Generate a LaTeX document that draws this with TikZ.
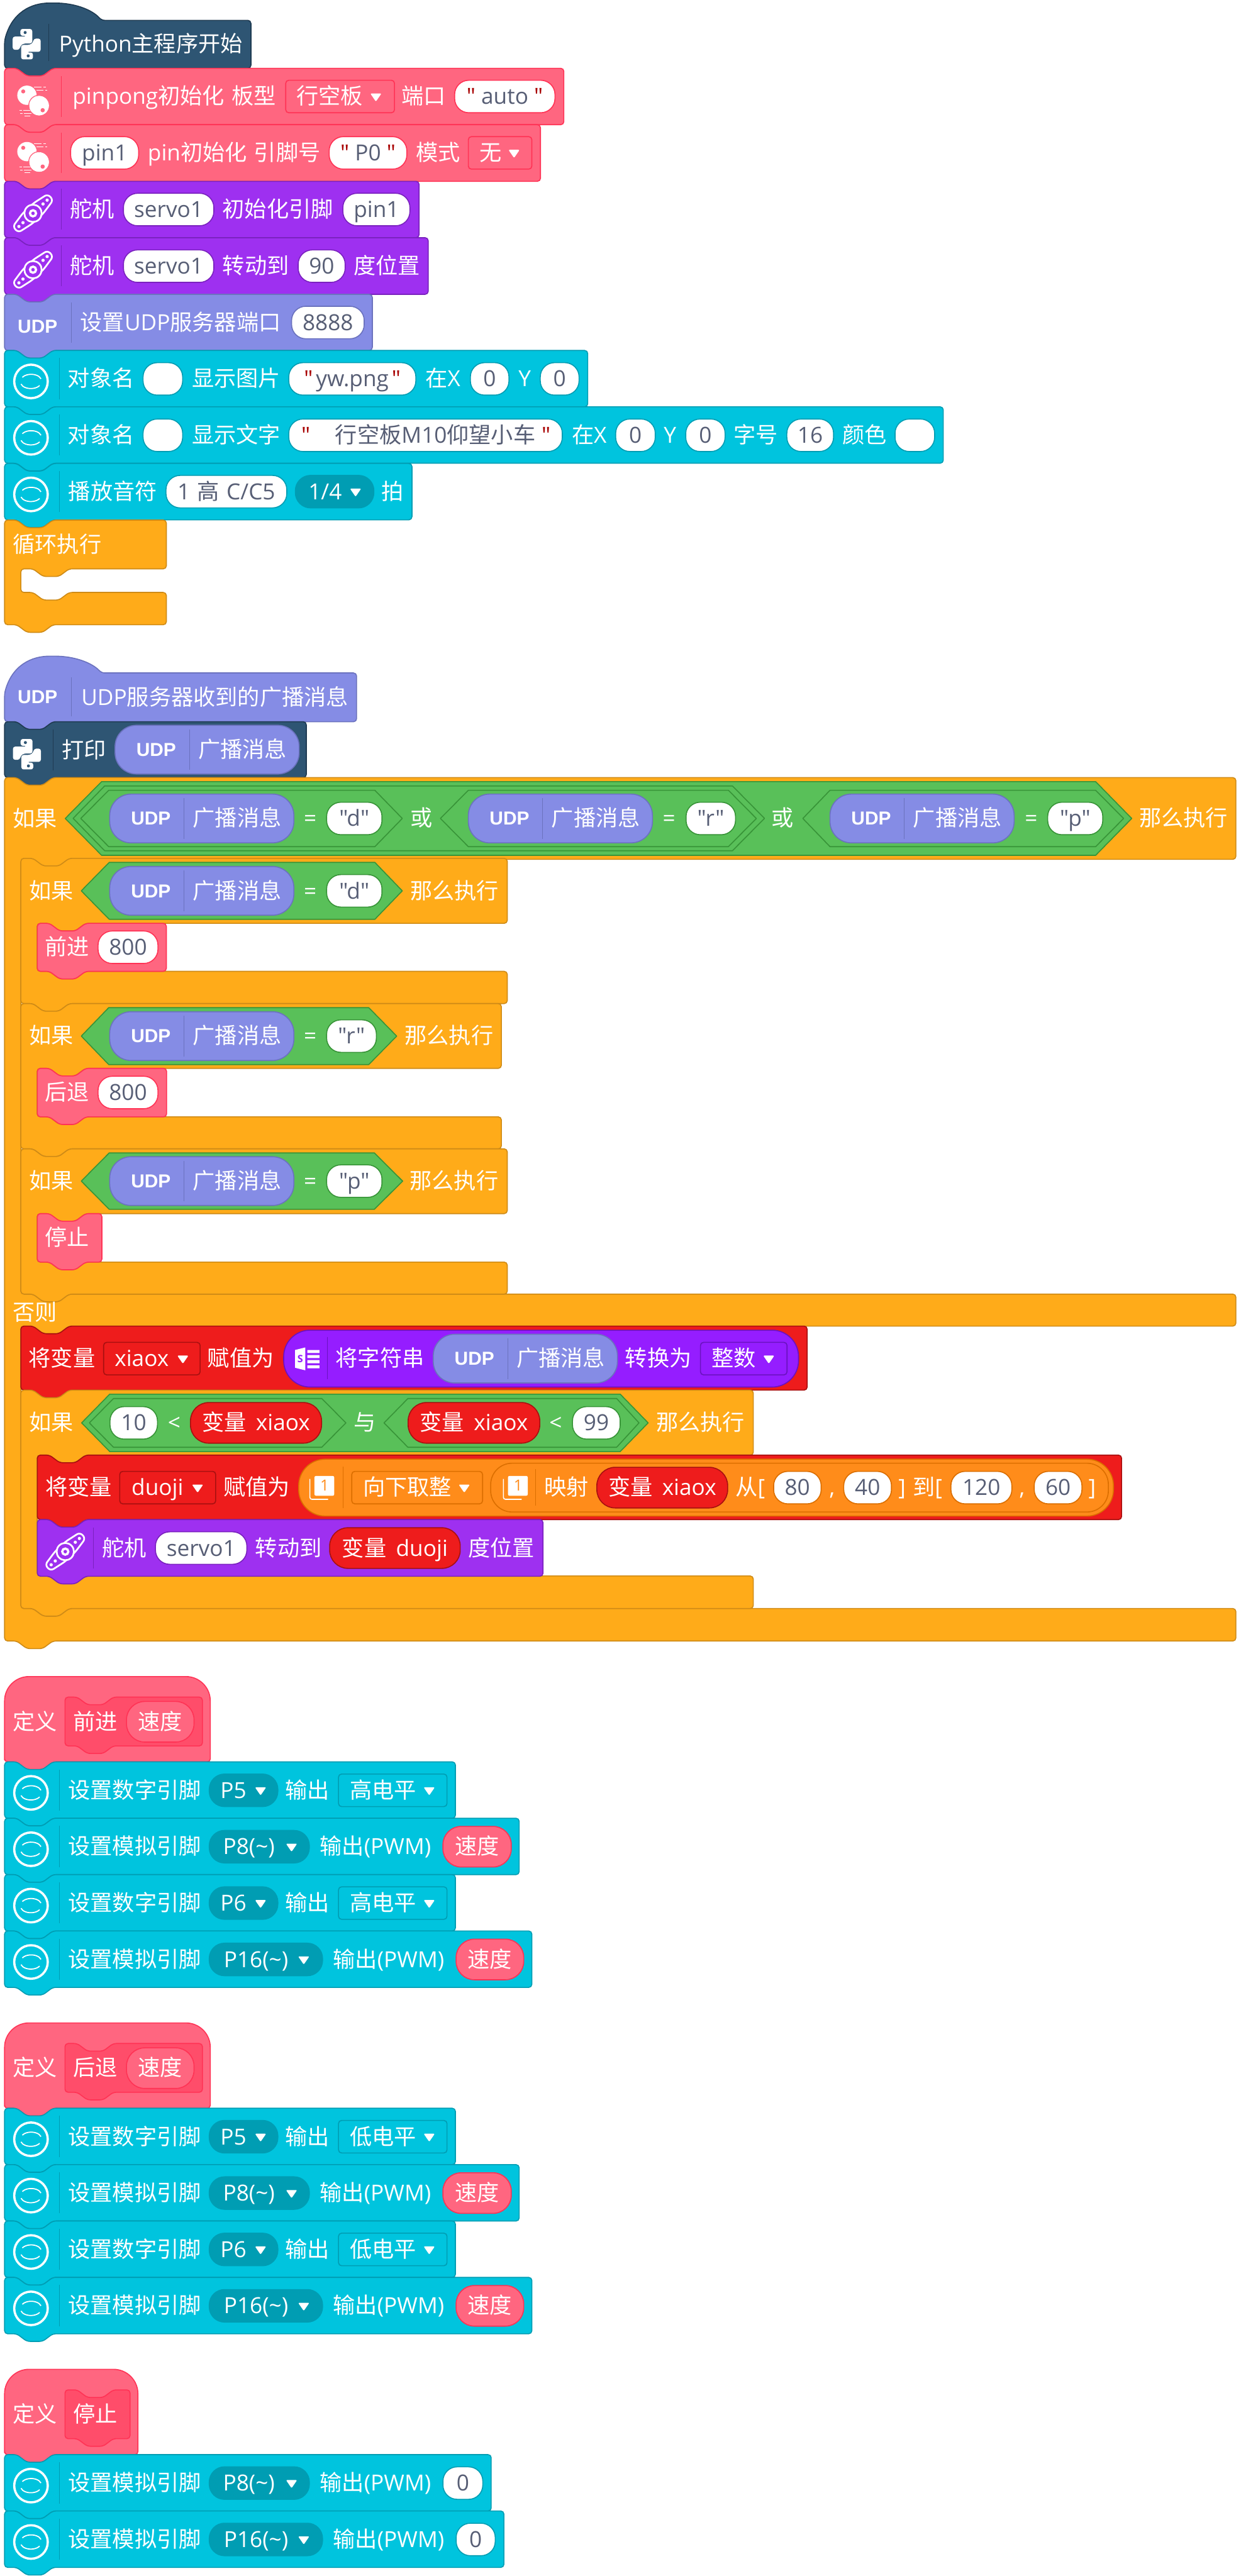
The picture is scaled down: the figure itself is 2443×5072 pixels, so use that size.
\documentclass[tikz,border=0pt]{standalone}
\usepackage{fontspec}
\setmainfont{Noto Sans CJK SC}
\newfontfamily\latf{Open Sans}
\newfontfamily\arialf{Liberation Sans}
\newcommand\Lt[1]{{\latf #1}}
\definecolor{cPy}{HTML}{2E5573}\definecolor{cPyD}{HTML}{1F3B52}
\definecolor{cPink}{HTML}{FF6680}\definecolor{cPinkD}{HTML}{FF3355}
\definecolor{cPinkI}{HTML}{FF4D6A}\definecolor{cPinkID}{HTML}{FF3355}
\definecolor{cServo}{HTML}{9E30F0}\definecolor{cServoD}{HTML}{7A22BE}
\definecolor{cUdp}{HTML}{858CE5}\definecolor{cUdpD}{HTML}{6B72BE}
\definecolor{cTeal}{HTML}{00C4DE}\definecolor{cTealD}{HTML}{009DB3}
\definecolor{cOr}{HTML}{FFAB19}\definecolor{cOrD}{HTML}{CF8B17}
\definecolor{cGr}{HTML}{59C059}\definecolor{cGrD}{HTML}{389438}
\definecolor{cRed}{HTML}{EE1C1C}\definecolor{cRedD}{HTML}{A81010}
\definecolor{cVio}{HTML}{951DFF}\definecolor{cVioD}{HTML}{6A12C0}
\definecolor{cMap}{HTML}{FF8C1A}\definecolor{cMapD}{HTML}{DB6E00}
\definecolor{slate}{HTML}{575E75}
\definecolor{qred}{HTML}{A80000}
\newcounter{nn}
\tikzset{
  txt/.style={inner sep=0pt,anchor=base,font=\fontsize{21.8}{26}\selectfont},
  blk/.style={fill=#1,draw=#1D,line width=1pt,rounded corners=3pt,line join=round},
  hexa/.style={fill=cGr,draw=cGrD,line width=1pt,line join=round},
  pil/.style={line width=1pt},
}
% text: [colour]{x}{centre y}{text}
\newcommand\T[4][white]{\stepcounter{nn}\node[txt,text=#1] (t\arabic{nn}) at ({#2},{#3+15.5}) {#4};}
\newcommand\Q{\textcolor{qred}{"}}
\newcommand\Sp{\hspace{7pt}}
\newcommand\Stackb[5]{\draw[blk=#5] (#1,#2) -- (#1+24,#2) -- (#1+44,#2+15) -- (#1+75,#2+15) -- (#1+95,#2) -- (#3,#2) -- (#3,#4) -- (#1+95,#4) -- (#1+75,#4+15) -- (#1+44,#4+15) -- (#1+24,#4) -- (#1,#4) -- cycle;}
% hat: x1, top of dome, body top, bottom, colour
\newcommand\Hat[5]{\draw[blk=#5] (9,#3+40) .. controls (24,#2+18) and (62,#2) .. (103,#2) .. controls (145,#2) and (180,#2+12) .. (200,#3) -- (#1,#3) -- (#1,#4) -- (104,#4) -- (84,#4+15) -- (53,#4+15) -- (33,#4) -- (9,#4) -- cycle;}
% C block: x0 top x1 yh ya yb
\newcommand\Cblk[6]{\draw[blk=cOr] (#1,#2) -- (#1+24,#2) -- (#1+44,#2+15) -- (#1+75,#2+15) -- (#1+95,#2) -- (#3,#2) -- (#3,#4) -- (#1+127,#4) -- (#1+107,#4+15) -- (#1+76,#4+15) -- (#1+56,#4) -- (#1+32,#4) -- (#1+32,#5) -- (#1+56,#5) -- (#1+76,#5+15) -- (#1+107,#5+15) -- (#1+127,#5) -- (#3,#5) -- (#3,#6) -- (#1+95,#6) -- (#1+75,#6+15) -- (#1+44,#6+15) -- (#1+24,#6) -- (#1,#6) -- cycle;}
\newcommand\Hex[6]{\draw[hexa] (#1,{(#5+#6)/2}) -- (#2,#5) -- (#3,#5) -- (#4,{(#5+#6)/2}) -- (#3,#6) -- (#2,#6) -- cycle;}
% x0 x1 cy hh radius fill stroke
\newcommand\Pill[7]{\draw[pil,fill=#6,draw=#7,rounded corners=#5] (#1,#3-#4) rectangle (#2,#3+#4);}
% white input: x0 x1 cy stroke text
\newcommand\WP[5]{\Pill{#1}{#2}{#3}{32}{14pt}{white}{#4}\T[slate]{(#1+#2)/2}{#3}{#5}}
\newcommand\Tri[2]{\fill[white,rounded corners=1.2pt] (#1-11,#2-6) -- (#1+11,#2-6) -- (#1,#2+10) -- cycle;}
% dropdown: x0 x1 cy fill stroke radius xt xa text
\newcommand\DD[9]{\Pill{#1}{#2}{#3}{32}{#6}{#4}{#5}\T{#7}{#3}{#9}\Tri{#8}{#3}}
\newcommand\Dv[4]{\draw[line width=0.7pt,draw=#4] (#1,#2) -- (#1,#3);}
\newcommand\UDPmark[2]{\stepcounter{nn}\node[inner sep=0pt,anchor=base,text=white,font=\arialf\bfseries\fontsize{18.5}{20}\selectfont] (t\arabic{nn}) at ({#1},{#2+13}) {UDP};}
% UDP message pill: x0 cy
\newcommand\Msg[2]{\Pill{#1}{#1+362.5}{#2}{48}{21pt}{cUdp}{cUdpD}\Dv{#1+146.5}{#2-40}{#2+40}{cUdpD}\UDPmark{#1+81}{#2}\T{#1+251}{#2}{广播消息}}
\newcommand\RedP[4]{\Pill{#1}{#2}{#3}{40}{18pt}{cRed}{cRedD}\T{(#1+#2)/2}{#3}{变量\hspace{9.5pt}\Lt{#4}}}
\newcommand\Py[3]{\begin{scope}[shift={(#1,#2)}]
  \foreach \r in {0,180}{\begin{scope}[rotate=\r]
  \fill[white,rounded corners=2.2pt] (-12.5,-30) -- (11,-30) -- (11,-1.5) -- (-6,-1.5) -- (-12.5,3) -- (-14,11) -- (-27.5,11) -- (-27.5,-15) -- (0,-15) -- (0,-16.5) -- (-12.5,-16.5) -- cycle;
  \fill[#3] (-3,-23) circle[radius=3];
  \end{scope}}
\end{scope}}
\newcommand\Ping[1]{\begin{scope}[shift={(0,#1)}]
  \fill[white] (53,53) circle[radius=19];
  \fill[cPink] (45.7,45.5) circle[radius=4];
  \draw[white,fill=white] (77,73.5) circle[radius=19];
  \draw[cPink,line width=0.8pt] (77,73.5) circle[radius=20.5];
  \fill[cPink] (84,82.5) circle[radius=4.2];
  \draw[white,line width=0.6pt] (67,37) -- (82,37) (85,37) -- (90,37) (72,43) -- (86,43) (89,43) -- (93,43);
  \draw[white,line width=0.6pt] (38,83) -- (43,83) (46,83) -- (60,83) (40,89) -- (44,89) (47,89) -- (62,89) (48,94) -- (60,94);
\end{scope}}
\newcommand\Servo[3]{\begin{scope}[shift={(#1,#2)},rotate=43]
  \draw[white,line width=1.7pt,rounded corners=3.5pt] (-47,-8) -- (-14,-14) -- (14,-14) -- (47,-8) -- (47,8) -- (14,14) -- (-14,14) -- (-47,8) -- cycle;
  \draw[white,line width=1.7pt,fill=#3] (0,0) circle[radius=17];
  \draw[white,line width=2.2pt] (0,0) circle[radius=6];
  \foreach \d in {-38,-27,27,38}{\fill[white] (\d,0) circle[radius=3.2];}
\end{scope}}
\newcommand\Ticon[2]{\begin{scope}[shift={(#1,#2)}]
  \draw[white,line width=2.2pt] (0,0) circle[radius=33];
  \draw[white,line width=1.1pt] (-17,-8) arc[start angle=210,end angle=345,x radius=20,y radius=12];
  \draw[white,line width=1.1pt] (17,8) arc[start angle=30,end angle=165,x radius=20,y radius=12];
\end{scope}}
\newcommand\TRow[2]{\Stackb{9}{#1}{#2}{#1+111}{cTeal}\Ticon{61}{#1+61}\Dv{116.5}{#1+15}{#1+96}{cTealD}}
\newcommand\Book[2]{\begin{scope}[shift={(#1,#2)}]
  \draw[white,line width=1pt,rounded corners=2pt] (0,6) -- (0,46) -- (36,46);
  \fill[white,rounded corners=1.5pt] (9,0) rectangle (48,39);
  \stepcounter{nn}\node[inner sep=0pt,text=cMap,font=\latf\fontsize{15}{18}\selectfont] (t\arabic{nn}) at (29,19) {1};
\end{scope}}
% function-section rows; #1 = offset, #2 = level word
\newcommand\FnSec[2]{
  \TRow{3469+#1}{896.5}
  \T{265}{3525+#1}{设置数字引脚}
  \DD{412}{547}{3525+#1}{cTealD}{cTealD}{15pt}{459.5}{513}{\Lt{P5}}
  \T{605}{3525+#1}{输出}
  \DD{666.4}{880}{3525+#1}{cTeal}{cTealD}{3pt}{754}{845}{#2}
  \TRow{3580+#1}{1022}
  \T{265}{3636+#1}{设置模拟引脚}
  \DD{412}{609}{3636+#1}{cTealD}{cTealD}{15pt}{490}{574}{\Lt{P8(\textasciitilde)}}
  \T{739}{3636+#1}{输出\Lt{(PWM)}}
  \Pill{872}{1006.6}{3636+#1}{40}{18pt}{cPink}{cPinkD}\T{939}{3636+#1}{速度}
  \TRow{3691+#1}{896.5}
  \T{265}{3747+#1}{设置数字引脚}
  \DD{412}{547}{3747+#1}{cTealD}{cTealD}{15pt}{459.5}{513}{\Lt{P6}}
  \T{605}{3747+#1}{输出}
  \DD{666.4}{880}{3747+#1}{cTeal}{cTealD}{3pt}{754}{845}{#2}
  \TRow{3802+#1}{1047}
  \T{265}{3858+#1}{设置模拟引脚}
  \DD{412}{635}{3858+#1}{cTealD}{cTealD}{15pt}{504}{598}{\Lt{P16(\textasciitilde)}}
  \T{765}{3858+#1}{输出\Lt{(PWM)}}
  \Pill{898}{1031}{3858+#1}{40}{18pt}{cPink}{cPinkD}\T{964.5}{3858+#1}{速度}
}
\newcommand\DefHat[3]{\draw[blk=cPink] (9,#2+168) [rounded corners=24pt] -- (9,#2) -- (#1,#2) [rounded corners=3pt] -- (#1,#2+168) -- (104,#2+168) -- (84,#2+183) -- (53,#2+183) -- (33,#2+168) -- (9,#2+168) -- cycle;
  \Stackb{128}{#2+40.5}{#3}{#2+136.5}{cPinkI}
  \T{69}{#2+89}{定义}}
\begin{document}
\begin{tikzpicture}[x=0.5pt,y=-0.5pt]
\useasboundingbox (0,0) rectangle (2443,5072);
\fill[white] (0,0) rectangle (2443,5072);
% ===== main program =====
\Hat{494}{6}{40}{134.5}{cPy}
\Py{52.5}{87}{cPy}
\Dv{95.7}{47}{120}{cPyD}
\T{297}{87}{\Lt{Python}主程序开始}
% pinpong 1
\Stackb{9}{134.5}{1110}{245.5}{cPink}
\Ping{134.5}
\Dv{120.7}{150}{230}{cPinkD}
\T{343}{190}{\Lt{pinpong}初始化\Sp 板型}
\DD{562.5}{776.6}{190}{cPink}{cPinkD}{3pt}{649}{740}{行空板}
\T{834}{190}{端口}
\WP{895}{1092.6}{190}{cPinkD}{\Lt{\Q{} auto \Q{}}}
% pinpong 2
\Stackb{9}{245.5}{1064}{357}{cPink}
\Ping{245.5}
\Dv{120.7}{261}{341}{cPinkD}
\WP{139}{273}{301}{cPinkD}{\Lt{pin1}}
\T{461}{301}{\Lt{pin}初始化\Sp 引脚号}
\WP{648}{801}{301}{cPinkD}{\Lt{\Q{} P0 \Q{}}}
\T{862.5}{301}{模式}
\DD{922}{1047}{301}{cPink}{cPinkD}{3pt}{965.6}{1012}{无}
% servo 1
\Stackb{9}{357}{825}{468}{cServo}
\Servo{65}{420}{cServo}
\Dv{120.7}{372}{452}{cServoD}
\T{182}{412.5}{舵机}
\WP{243}{421}{412.5}{cServoD}{\Lt{servo1}}
\T{547}{412.5}{初始化引脚}
\WP{675}{807}{412.5}{cServoD}{\Lt{pin1}}
% servo 2
\Stackb{9}{468}{843}{579.5}{cServo}
\Servo{65}{531}{cServo}
\Dv{120.7}{483}{563}{cServoD}
\T{182}{524}{舵机}
\WP{243}{421}{524}{cServoD}{\Lt{servo1}}
\T{503.5}{524}{转动到}
\WP{587}{679.5}{524}{cServoD}{\Lt{90}}
\T{761.5}{524}{度位置}
% udp port
\Stackb{9}{579.5}{733}{690}{cUdp}
\UDPmark{74}{643}
\Dv{140.8}{595}{675}{cUdpD}
\T{355.5}{635}{设置\Lt{UDP}服务器端口}
\WP{574}{717}{635}{cUdpD}{\Lt{8888}}
% teal rows
\TRow{690}{1157}
\T{199}{746}{对象名}
\WP{281.6}{359.6}{746}{cTealD}{}
\T{465}{746}{显示图片}
\WP{568.5}{818.7}{746}{cTealD}{\Lt{\Q{}\hspace{3pt}yw.png\hspace{3pt}\Q{}}}
\T{872}{746}{在\Lt{X}}
\WP{926}{1002}{746}{cTealD}{\Lt{0}}
\T{1033}{746}{\Lt{Y}}
\WP{1063.6}{1140}{746}{cTealD}{\Lt{0}}
\TRow{801}{1857}
\T{199}{857}{对象名}
\WP{281.6}{359.6}{857}{cTealD}{}
\T{465}{857}{显示文字}
\WP{568.5}{1107}{857}{cTealD}{}
\T{602}{857}{\Lt{\Q}}
\T[slate]{857}{857}{行空板\Lt{M10}仰望小车}
\T{1075}{857}{\Lt{\Q}}
\T{1160}{857}{在\Lt{X}}
\WP{1212}{1290}{857}{cTealD}{\Lt{0}}
\T{1319}{857}{\Lt{Y}}
\WP{1350}{1427.5}{857}{cTealD}{\Lt{0}}
\T{1488}{857}{字号}
\WP{1549}{1641}{857}{cTealD}{\Lt{16}}
\T{1702}{857}{颜色}
\WP{1762}{1840}{857}{cTealD}{}
\TRow{912.5}{811}
\T{222}{968}{播放音符}
\WP{326.7}{564.6}{968}{cTealD}{\Lt{1}\Sp 高\Sp\Lt{C/C5}}
\DD{581.5}{736}{968}{cTealD}{cTealD}{15pt}{640}{700}{\Lt{1/4}}
\T{773}{968}{拍}
% loop
\Cblk{9}{1024}{327.5}{1120}{1166.5}{1230}
\T{112.5}{1072}{循环执行}
% ===== UDP handler =====
\Hat{702}{1292}{1325}{1421}{cUdp}
\UDPmark{74}{1372}
\Dv{140.8}{1333}{1410}{cUdpD}
\T{423}{1373}{\Lt{UDP}服务器收到的广播消息}
\Stackb{9}{1421}{603}{1531}{cPy}
\Py{53}{1485}{cPy}
\Dv{104.8}{1436}{1517}{cPyD}
\T{165}{1477}{打印}
\Msg{226.5}{1476}
% outer if
\draw[blk=cOr] (9,1531) -- (33,1531) -- (53,1546) -- (84,1546) -- (104,1531) -- (2433,1531) -- (2433,1692) -- (136,1692) -- (116,1707) -- (85,1707) -- (65,1692) -- (41,1692) -- (41,2548) -- (65,2548) -- (85,2563) -- (116,2563) -- (136,2548) -- (2433,2548) -- (2433,2611) -- (136,2611) -- (116,2626) -- (85,2626) -- (65,2611) -- (41,2611) -- (41,3167) -- (65,3167) -- (85,3182) -- (116,3182) -- (136,3167) -- (2433,3167) -- (2433,3231) -- (104,3231) -- (84,3246) -- (53,3246) -- (33,3231) -- (9,3231) -- cycle;
\T{69}{1612}{如果}
\Hex{128.5}{200}{2157}{2228}{1539}{1684}
\Hex{144}{206}{1442}{1505}{1547.5}{1675}
\Hex{159}{214}{738}{792}{1556}{1667}
\Msg{216}{1611.5}
\T{610.7}{1611.5}{\Lt{=}}
\WP{643}{752}{1611.5}{cGrD}{\Lt{"d"}}
\T{830}{1611.5}{或}
\Hex{867}{922}{1434}{1489}{1556}{1667}
\Msg{922}{1611.5}
\T{1317}{1611.5}{\Lt{=}}
\WP{1350.6}{1448}{1611.5}{cGrD}{\Lt{"r"}}
\T{1541}{1611.5}{或}
\Hex{1580.5}{1634}{2157}{2212}{1556}{1667}
\Msg{1634}{1611.5}
\T{2030}{1611.5}{\Lt{=}}
\WP{2062.5}{2171}{1611.5}{cGrD}{\Lt{"p"}}
\T{2330}{1611.5}{那么执行}
% if d
\Cblk{41}{1690}{998.7}{1818}{1912.5}{1976}
\T{101}{1754}{如果}
\Hex{160}{215}{738}{792}{1698}{1810}
\Msg{216}{1754}
\T{610.7}{1754}{\Lt{=}}
\WP{643}{752}{1754}{cGrD}{\Lt{"d"}}
\T{895}{1754}{那么执行}
\Stackb{73.5}{1818}{327.5}{1912.5}{cPink}
\T{132.4}{1865}{前进}
\WP{193}{311}{1865}{cPinkD}{\Lt{800}}
% if r
\Cblk{41}{1976}{987}{2103.5}{2199}{2262}
\T{101}{2040}{如果}
\Hex{160}{214}{726}{781}{1984}{2096}
\Msg{216}{2040}
\T{610.7}{2040}{\Lt{=}}
\WP{643}{741}{2040}{cGrD}{\Lt{"r"}}
\T{884}{2040}{那么执行}
\Stackb{73.5}{2103.5}{328}{2199}{cPink}
\T{132.4}{2151}{后退}
\WP{193}{311}{2151}{cPinkD}{\Lt{800}}
% if p
\Cblk{41}{2262}{998.7}{2389.5}{2485}{2548}
\T{101}{2325.5}{如果}
\Hex{160}{215}{737}{792.7}{2270}{2381}
\Msg{216}{2325.5}
\T{610.7}{2325.5}{\Lt{=}}
\WP{643}{752}{2325.5}{cGrD}{\Lt{"p"}}
\T{894}{2325.5}{那么执行}
\Stackb{73.5}{2389.5}{200.6}{2485}{cPink}
\T{132.4}{2437}{停止}
\T{69}{2584}{否则}
% assign xiaox
\Stackb{41}{2611}{1589}{2737}{cRed}
\T{122}{2675}{将变量}
\DD{204}{394}{2675}{cRed}{cRedD}{3pt}{279}{360}{\Lt{xiaox}}
\T{474}{2675}{赋值为}
\Pill{558.5}{1572}{2675}{56}{26pt}{cVio}{cVioD}
\begin{scope}[shift={(581,2653)}]
  \fill[white] (0,5) -- (20,0) -- (20,45) -- (0,40) -- cycle;
  \fill[white] (24,5) rectangle (48,11) (24,15) rectangle (48,21) (24,25) rectangle (48,31) (24,35) rectangle (48,41);
  \stepcounter{nn}\node[inner sep=0pt,text=cVio,font=\latf\bfseries\fontsize{10}{12}\selectfont] (t\arabic{nn}) at (10,23) {S};
\end{scope}
\Dv{645}{2632}{2716}{cVioD}
\T{748}{2675}{将字符串}
\Msg{853}{2675}
\T{1296}{2675}{转换为}
\DD{1379}{1549.4}{2675}{cVio}{cVioD}{3pt}{1444.5}{1513.5}{整数}
% if range
\Cblk{41}{2737}{1483}{2865}{3103}{3167}
\T{101}{2801.5}{如果}
\Hex{160.7}{216}{1221}{1276}{2745}{2858}
\Hex{176}{223.4}{633.5}{681}{2753.6}{2849.5}
\WP{216.5}{310}{2801.5}{cGrD}{\Lt{10}}
\T{343}{2801.5}{\Lt{<}}
\RedP{375}{633}{2801.5}{xiaox}
\T{718}{2801.5}{与}
\Hex{756}{803}{1214}{1258}{2753.6}{2849.5}
\RedP{803.5}{1062.6}{2801.5}{xiaox}
\T{1094}{2801.5}{\Lt{<}}
\WP{1127}{1221}{2801.5}{cGrD}{\Lt{99}}
\T{1379}{2801.5}{那么执行}
% assign duoji
\Stackb{73.5}{2865}{2208}{2992}{cRed}
\T{154.6}{2929}{将变量}
\DD{235.7}{424.6}{2929}{cRed}{cRedD}{3pt}{310}{389}{\Lt{duoji}}
\T{505}{2929}{赋值为}
\Pill{588}{2192}{2929}{56}{26pt}{cMap}{cMapD}
\Book{610}{2906}
\Dv{675}{2888}{2969}{cMapD}
\DD{692.5}{950}{2929}{cMap}{cMapD}{3pt}{802}{914}{向下取整}
\Pill{966}{2182}{2929}{48}{21pt}{cMap}{cMapD}
\Book{991}{2906}
\Dv{1054}{2893}{2965}{cMapD}
\T{1115}{2929}{映射}
\RedP{1175}{1432.5}{2929}{xiaox}
\T{1477}{2929}{从\Lt{[}}
\WP{1523}{1616.6}{2929}{cMapD}{\Lt{80}}
\T{1638}{2929}{\Lt{,}}
\WP{1661}{1755}{2929}{cMapD}{\Lt{40}}
\T{1776}{2929}{\Lt{]}}
\T{1826}{2929}{到\Lt{[}}
\WP{1872}{1992}{2929}{cMapD}{\Lt{120}}
\T{2012}{2929}{\Lt{,}}
\WP{2036}{2130}{2929}{cMapD}{\Lt{60}}
\T{2150}{2929}{\Lt{]}}
% servo 3
\Stackb{73.5}{2992}{1069}{3103.5}{cServo}
\Servo{128.5}{3055}{cServo}
\Dv{183.6}{3008}{3088}{cServoD}
\T{245}{3048}{舵机}
\WP{306}{486}{3048}{cServoD}{\Lt{servo1}}
\T{568}{3048}{转动到}
\RedP{649}{906}{3048}{duoji}
\T{987}{3048}{度位置}
% ===== forward =====
\DefHat{414}{3301}{398.5}
\T{188}{3390}{前进}
\Pill{249}{382}{3390}{40}{18pt}{cPink}{cPinkD}\T{315.5}{3390}{速度}
\FnSec{0}{高电平}
% ===== backward =====
\DefHat{414}{3983}{398.5}
\T{188}{4072}{后退}
\Pill{249}{382}{4072}{40}{18pt}{cPink}{cPinkD}\T{315.5}{4072}{速度}
\FnSec{682}{低电平}
% ===== stop =====
\DefHat{271.5}{4665}{256}
\T{188}{4754}{停止}
\TRow{4833}{967}
\T{265}{4889}{设置模拟引脚}
\DD{412}{609}{4889}{cTealD}{cTealD}{15pt}{490}{574}{\Lt{P8(\textasciitilde)}}
\T{739}{4889}{输出\Lt{(PWM)}}
\WP{872}{950.5}{4889}{cTealD}{\Lt{0}}
\TRow{4944}{992}
\T{265}{5000}{设置模拟引脚}
\DD{412}{635}{5000}{cTealD}{cTealD}{15pt}{504}{598}{\Lt{P16(\textasciitilde)}}
\T{765}{5000}{输出\Lt{(PWM)}}
\WP{898}{975}{5000}{cTealD}{\Lt{0}}
\end{tikzpicture}
\end{document}
